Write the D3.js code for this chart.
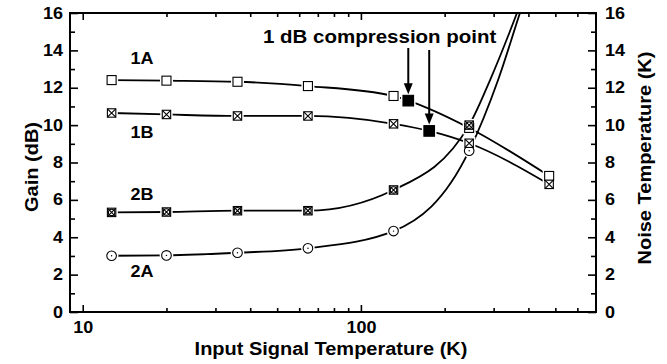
<!DOCTYPE html>
<html>
<head>
<meta charset="utf-8">
<script src="https://cdn.jsdelivr.net/npm/d3@7/dist/d3.min.js"></script>
<style>
  body { margin: 0; background: #fff; }
  svg { display: block; font-family: "Liberation Sans", Arial, sans-serif; font-weight: bold; }
</style>
</head>
<body>
<svg id="chart"></svg>
<script>
// input signal temperature (K) of the measured points
const temps = [12.7, 20, 36, 64.5, 131, 245, 475];
// gain (dB), series 1A and 1B
const gain1A = [12.41, 12.38, 12.32, 12.09, 11.56, 9.85, 7.28];
const gain1B = [10.65, 10.57, 10.49, 10.49, 10.07, 9.03, 6.83];
// noise temperature (K), series 2A and 2B (first six temps)
const noise2A = [3.01, 3.03, 3.17, 3.41, 4.33, 8.63];
const noise2B = [5.33, 5.35, 5.42, 5.42, 6.53, 10.0];
// 1 dB compression points (filled squares)
const compTemp = [148, 176];
const compGain = [11.31, 9.69];
// where the fitted noise curves run off the top of the frame
const fit2ATemp = [311, 373, 420];
const fit2AVal = [12.4, 16, 18.3];
const fit2BTemp = [291, 364, 420];
const fit2BVal = [12.4, 16, 18.5];
// ticks
const xMajor = [10, 100];
const xMinor = [20, 30, 40, 50, 60, 70, 80, 90, 200, 300, 400, 500, 600];
const yMajor = [0, 2, 4, 6, 8, 10, 12, 14, 16];
const yMinor = [1, 3, 5, 7, 9, 11, 13, 15];

const width = 667;
const height = 364;
const margin = { top: 13, right: 71, bottom: 52, left: 70 };

const svg = d3.select('#chart')
    .attr('width', width)
    .attr('height', height);

const x = d3.scaleLog()
    .domain([9, 700])
    .range([margin.left, width - margin.right]);
const y = d3.scaleLinear()
    .domain([0, 16])
    .range([height - margin.bottom, margin.top]);

const squash = 'scale(1,0.88)';

function styleAxis(g, size) {
    g.select('.domain').remove();
    g.selectAll('line').attr('stroke', '#000').attr('stroke-width', 1.6);
    g.selectAll('text')
        .attr('font-size', size)
        .attr('fill', '#000')
        .attr('transform', squash);
}

function addText(px, py, str, size, anchor, rot = 0) {
    return svg.append('text')
        .attr('transform', `translate(${px},${py}) rotate(${rot}) ${squash}`)
        .attr('text-anchor', anchor)
        .attr('font-size', size)
        .attr('fill', '#000')
        .text(str);
}

// axes, ticks pointing inward on all four sides
const yBot = y(0), yTop = y(16), xLeft = x.range()[0], xRight = x.range()[1];

svg.append('g').attr('transform', `translate(0,${yBot})`)
    .call(d3.axisBottom(x).tickValues(xMajor).tickFormat(d3.format('d')).tickSize(-7).tickPadding(11))
    .call(g => styleAxis(g, 18));
svg.append('g').attr('transform', `translate(0,${yBot})`)
    .call(d3.axisBottom(x).tickValues(xMinor).tickFormat('').tickSize(-4))
    .call(g => styleAxis(g, 18));
svg.append('g').attr('transform', `translate(0,${yTop})`)
    .call(d3.axisTop(x).tickValues(xMajor).tickFormat('').tickSize(-7))
    .call(g => styleAxis(g, 18));
svg.append('g').attr('transform', `translate(0,${yTop})`)
    .call(d3.axisTop(x).tickValues(xMinor).tickFormat('').tickSize(-4))
    .call(g => styleAxis(g, 18));

svg.append('g').attr('transform', `translate(${xLeft},0)`)
    .call(d3.axisLeft(y).tickValues(yMajor).tickSize(-8).tickPadding(7))
    .call(g => styleAxis(g, 18));
svg.append('g').attr('transform', `translate(${xLeft},0)`)
    .call(d3.axisLeft(y).tickValues(yMinor).tickFormat('').tickSize(-5))
    .call(g => styleAxis(g, 18));
svg.append('g').attr('transform', `translate(${xRight},0)`)
    .call(d3.axisRight(y).tickValues(yMajor).tickSize(-8).tickPadding(9))
    .call(g => styleAxis(g, 18));
svg.append('g').attr('transform', `translate(${xRight},0)`)
    .call(d3.axisRight(y).tickValues(yMinor).tickFormat('').tickSize(-5))
    .call(g => styleAxis(g, 18));

svg.append('rect')
    .attr('x', xLeft).attr('y', yTop)
    .attr('width', xRight - xLeft).attr('height', yBot - yTop)
    .attr('fill', 'none').attr('stroke', '#000').attr('stroke-width', 2);

// axis titles
addText((xLeft + xRight) / 2 - 2, 355, 'Input Signal Temperature (K)', 20, 'middle');
addText(38, 167, 'Gain (dB)', 20, 'middle', -90);
addText(651, 158, 'Noise Temperature (K)', 20, 'middle', -90);

// curves
svg.append('clipPath').attr('id', 'plot')
    .append('rect').attr('x', xLeft).attr('y', yTop)
    .attr('width', xRight - xLeft).attr('height', yBot - yTop);

const line = d3.line()
    .x(d => x(d[0]))
    .y(d => y(d[1]))
    .curve(d3.curveMonotoneX);

const pts1A = temps.map((t, i) => [t, gain1A[i]]);
const pts1B = temps.map((t, i) => [t, gain1B[i]]);
const pts2A = noise2A.map((v, i) => [temps[i], v]);
const pts2B = noise2B.map((v, i) => [temps[i], v]);
const comp1A = [compTemp[0], compGain[0]];
const comp1B = [compTemp[1], compGain[1]];

const curves = [
    [...pts1A, comp1A].sort((a, b) => a[0] - b[0]),
    [...pts1B, comp1B].sort((a, b) => a[0] - b[0]),
    [...pts2A, ...fit2ATemp.map((t, i) => [t, fit2AVal[i]])],
    [...pts2B, ...fit2BTemp.map((t, i) => [t, fit2BVal[i]])]
];

svg.append('g').attr('clip-path', 'url(#plot)')
    .selectAll('path')
    .data(curves)
    .join('path')
    .attr('d', line)
    .attr('fill', 'none')
    .attr('stroke', '#000')
    .attr('stroke-width', 1.8);

// markers: white halo first so the lines stop short of each symbol
const markers = [
    ...pts2A.map(d => ({ d, kind: 'circle' })),
    ...pts1A.map(d => ({ d, kind: 'open' })),
    ...pts1B.map(d => ({ d, kind: 'cross' })),
    ...pts2B.map(d => ({ d, kind: 'crossCircle' })),
    { d: comp1A, kind: 'filled' },
    { d: comp1B, kind: 'filled' }
];
const half = { circle: 4.8, open: 4.5, cross: 4.2, crossCircle: 4.2, filled: 5.3 };

const halo = svg.append('g');
markers.forEach(m => {
    const px = x(m.d[0]), py = y(m.d[1]), h = half[m.kind];
    if (m.kind === 'circle') {
        halo.append('circle').attr('cx', px).attr('cy', py).attr('r', h + 2).attr('fill', '#fff');
    } else {
        halo.append('rect').attr('x', px - h - 2).attr('y', py - h - 2)
            .attr('width', 2 * h + 4).attr('height', 2 * h + 4).attr('fill', '#fff');
    }
});

const sym = svg.append('g').attr('stroke', '#000').attr('stroke-width', 1.1);
markers.forEach(m => {
    const px = x(m.d[0]), py = y(m.d[1]), h = half[m.kind];
    if (m.kind === 'circle') {
        sym.append('circle').attr('cx', px).attr('cy', py).attr('r', h).attr('fill', '#fff');
        sym.append('circle').attr('cx', px).attr('cy', py).attr('r', 0.7).attr('fill', '#000').attr('stroke', 'none');
        return;
    }
    sym.append('rect').attr('x', px - h).attr('y', py - h)
        .attr('width', 2 * h).attr('height', 2 * h)
        .attr('fill', m.kind === 'filled' ? '#000' : '#fff');
    if (m.kind === 'cross' || m.kind === 'crossCircle') {
        sym.append('path')
            .attr('d', `M${px - h},${py - h}L${px + h},${py + h}M${px + h},${py - h}L${px - h},${py + h}`)
            .attr('fill', 'none');
    }
    if (m.kind === 'crossCircle') {
        sym.append('circle').attr('cx', px).attr('cy', py).attr('r', h - 1).attr('fill', 'none');
    }
});

// series labels
addText(142, 64, '1A', 18, 'middle');
addText(142, 138, '1B', 18, 'middle');
addText(142, 200, '2B', 18, 'middle');
addText(142, 277, '2A', 18, 'middle');

// compression point annotation with arrows
addText(263, 43, '1 dB compression point', 20.5, 'start');

const arrowTops = [48, 50];
compTemp.forEach((t, i) => {
    const ax = x(t);
    const tip = y(compGain[i]) - half.filled - 1;
    svg.append('line')
        .attr('x1', ax).attr('x2', ax)
        .attr('y1', arrowTops[i]).attr('y2', tip - 9)
        .attr('stroke', '#000').attr('stroke-width', 2);
    svg.append('path')
        .attr('d', `M${ax - 4.5},${tip - 11}L${ax + 4.5},${tip - 11}L${ax},${tip}Z`)
        .attr('fill', '#000');
});
</script>
</body>
</html>
